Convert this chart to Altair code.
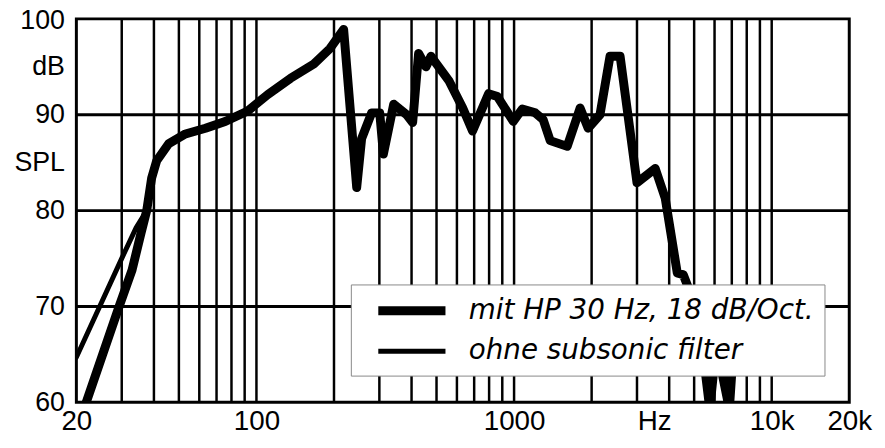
import altair as alt
import pandas as pd

# ---- data ----
SERIES = ["mit HP 30 Hz, 18 dB/Oct.", "ohne subsonic filter"]

freq_hp = [20, 29.3, 32.9, 35.6, 37.5, 39.2, 41, 45.7, 53, 63.4, 75.6, 92.5,
           110.6, 135.6, 167, 192.8, 218, 245, 256, 280, 301, 311, 341, 383,
           404, 426, 455, 476, 560, 632, 690, 796, 862, 993, 1076, 1208, 1297,
           1381, 1608, 1805, 1938, 2155, 2357, 2580, 3000, 3530, 3860, 4300,
           4540, 4740, 5200, 5750, 6100, 6850, 7200]
db_hp = [57.0, 70.0, 73.8, 77.6, 80.0, 83.4, 85.2, 87.0, 88.0, 88.6, 89.3, 90.4,
         92.1, 93.8, 95.3, 96.9, 98.9, 82.4, 87.5, 90.2, 90.2, 85.9, 91.1, 90.0,
         89.2, 96.4, 95.0, 96.1, 93.5, 90.7, 88.3, 92.2, 91.9, 89.3, 90.6, 90.2, 89.5,
         87.3, 86.7, 90.7, 88.6, 90.0, 96.1, 96.1, 82.9, 84.4, 81.3, 73.5,
         73.3, 72.0, 69.0, 59.3, 66.0, 59.3, 68.0]

freq_ohne = [20, 30.1, 34.1] + freq_hp[4:]
db_ohne = [64.7, 75.1, 78.2] + db_hp[4:]

x_grid = [30, 40, 50, 60, 70, 80, 90, 100, 200, 300, 400, 500, 600, 700, 800, 900,
          1000, 2000, 3000, 4000, 5000, 6000, 7000, 8000, 9000, 10000]
y_grid = [70, 80, 90]
x_label_values = [20, 100, 1000, 3500, 10000, 20000]
y_label_values = [60, 70, 80, 85, 90, 95, 100]

df = pd.concat([
    pd.DataFrame({"f": freq_hp, "db": db_hp, "series": SERIES[0]}),
    pd.DataFrame({"f": freq_ohne, "db": db_ohne, "series": SERIES[1]}),
])

FONT = "Liberation Sans, Arial, sans-serif"

xscale = alt.Scale(type="log", domain=[20, 20000], nice=False)
yscale = alt.Scale(domain=[60, 100], nice=False, zero=False)

vgrid = alt.Chart(pd.DataFrame({"f": x_grid})).mark_rule(color="black", strokeWidth=2.5).encode(
    x=alt.X("f:Q", scale=xscale)
)
hgrid = alt.Chart(pd.DataFrame({"db": y_grid})).mark_rule(color="black", strokeWidth=3).encode(
    y=alt.Y("db:Q", scale=yscale)
)

lines = alt.Chart(df).mark_line(
    color="black", clip=True, strokeJoin="round", strokeCap="round"
).encode(
    x=alt.X("f:Q", scale=xscale, title=None,
            axis=alt.Axis(values=x_label_values, grid=False, ticks=False, domain=False,
                          labelFlush=False, labelOverlap=False, labelPadding=5,
                          labelFont=FONT, labelFontSize=28, labelColor="black",
                          labelExpr="datum.value == 3500 ? 'Hz' : datum.value == 10000 ? '10k' : datum.value == 20000 ? '20k' : format(datum.value, 'd')")),
    y=alt.Y("db:Q", scale=yscale, title=None,
            axis=alt.Axis(values=y_label_values, grid=False, ticks=False, domain=False,
                          labelFlush=False, labelOverlap=False, labelPadding=12,
                          labelFont=FONT, labelFontSize=27, labelColor="black",
                          labelBaseline="middle",
                          labelOffset={"condition": {"test": "datum.value == 100", "value": 2}, "value": 0},
                          labelExpr="datum.value == 95 ? 'dB' : datum.value == 85 ? 'SPL' : format(datum.value, 'd')")),
    strokeWidth=alt.StrokeWidth(
        "series:N", scale=alt.Scale(domain=SERIES, range=[9, 5]),
        legend=alt.Legend(orient="none", legendX=277, legendY=268, title=None,
                          symbolType="M0.1,0H5.75", symbolSize=576, symbolStrokeColor="black",
                          symbolFillColor="transparent",
                          labelFont="DejaVu Sans, sans-serif", labelFontStyle="italic",
                          labelFontSize=28, labelColor="black", labelLimit=600,
                          fillColor="white", strokeColor="#888888", padding=10,
                          labelOffset=76, rowPadding=8),
    ),
    detail="series:N",
)

chart = alt.layer(vgrid, hgrid, lines).properties(
    width=780, height=387,
    autosize=alt.AutoSizeParams(type="none"),
    padding={"left": 69, "top": 9, "right": 28, "bottom": 36},
).configure_view(stroke="black", strokeWidth=3)

chart.save("out.html", embed_options={"renderer": "svg", "actions": False})
